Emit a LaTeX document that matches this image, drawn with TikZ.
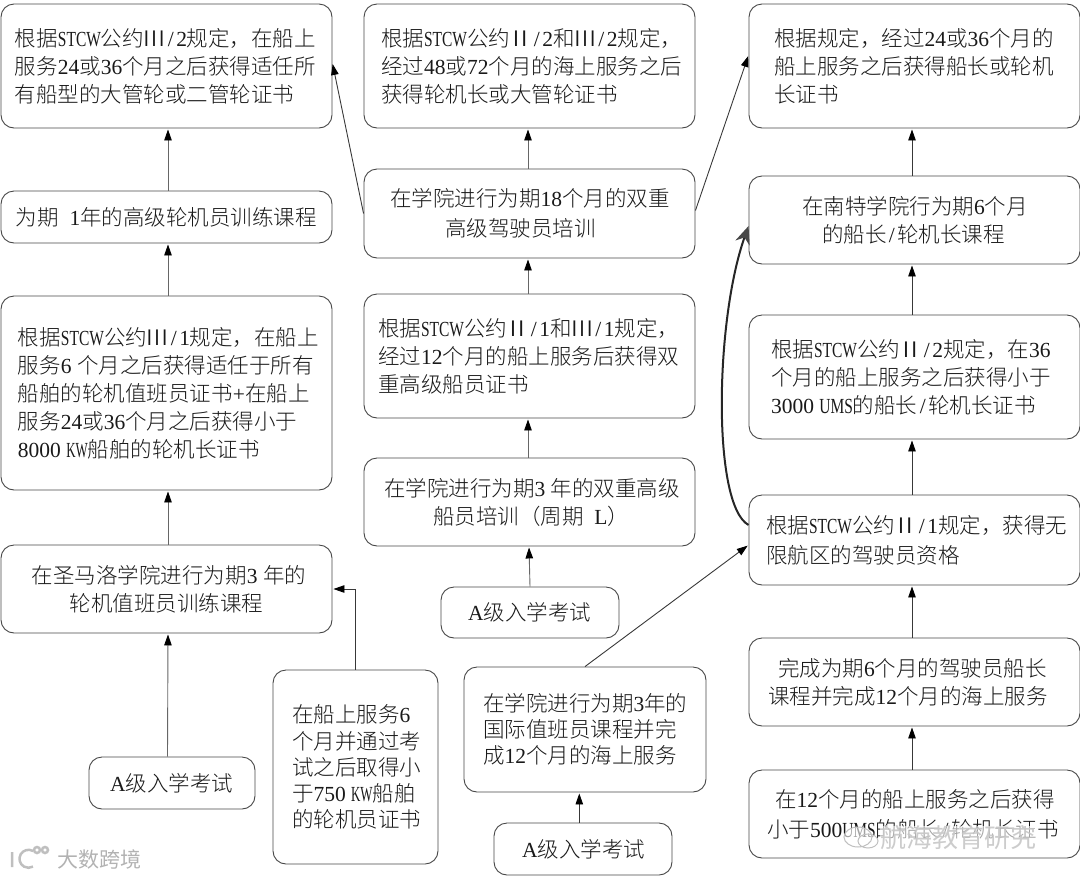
\documentclass[tikz,border=0pt]{standalone}
\usepackage{fontspec}
\setmainfont{Noto Sans CJK SC Light}
\newfontfamily\latf{Liberation Serif}
\newfontfamily\narf[FakeStretch=0.72]{Liberation Serif}
\newfontfamily\nark[FakeStretch=0.6]{Liberation Serif}
\newfontfamily\wmf{Noto Sans CJK SC}
\newcommand\lat[1]{{\latf #1}}
\newcommand\nar[1]{{\narf #1}}
\newcommand\knar[1]{{\nark #1}}
\newcommand\slh{\makebox[.5em]{\latf /}}
\newcommand\rtwo{\makebox[1em]{\scalebox{1.4}[1]{Ⅱ}}}
\newcommand\rthree{\makebox[1em]{\scalebox{1.3}[1]{Ⅲ}}}
\newcommand\thin{\hspace{.25em}}
\newcommand\hs{\hspace{.5em}}
\usetikzlibrary{arrows.meta,calc}
\tikzset{
  x=1pt,y=-1pt,
  boxnode/.style={draw=black!72,line width=0.9pt,rounded corners=13pt,inner sep=0pt,align=left,text=black!90,font=\fontsize{21.5}{28}\selectfont},
  lsa/.style={font=\fontsize{21.5}{26.2}\selectfont},
  lsb/.style={font=\fontsize{21.5}{30}\selectfont},
  arr/.style={draw=black!60,line width=0.9pt,shorten >=1pt,-{Triangle[length=11pt,width=7.5pt,black]}},
  arrd/.style={arr,draw=black!78},
  bigarr/.style={draw=black!85,line width=2pt,-{Stealth[length=18pt,width=15pt,black!72]}},
  wm/.style={text=black!30,inner sep=0pt}
}
% optional style, name, x1, y1, x2, y2, text left edge, text
\newcommand\bx[8][]{%
  \pgfmathsetmacro\bxw{#5-#3}%
  \pgfmathsetmacro\bxl{#7-#3}%
  \node[boxnode,text width=\bxw pt,minimum height=#6-#4,#1] (#2) at ({(#3+#5)/2},{(#4+#6)/2}) {\leftskip=\bxl pt\parindent=0pt #8\par};}
\begin{document}
\begin{tikzpicture}
\useasboundingbox (0,0) rectangle (1080,879);
\bx{aa}{1}{4}{332}{128}{15}{根据\nar{STCW}公约\rthree\slh\lat{2}规定，在船上\\服务\lat{24}或\lat{36}个月之后获得适任所\\有船型的大管轮或二管轮证书}
\bx{ab}{1}{191}{332}{243}{16}{为期\hs\lat{1}年的高级轮机员训练课程}
\bx{ac}{1}{296}{332}{490}{18}{根据\nar{STCW}公约\rthree\slh\lat{1}规定，在船上\\服务\lat{6}\thin 个月之后获得适任于所有\\船舶的轮机值班员证书\lat{+}在船上\\服务\lat{24}或\lat{36}个月之后获得小于\\\lat{8000}\thin\knar{KW}船舶的轮机长证书}
\bx{ad}{1}{545}{332}{633}{32}{在圣马洛学院进行为期\lat{3}\thin 年的\\\hspace*{38pt}轮机值班员训练课程}
\bx{ae}{89}{757}{255}{809}{110}{\lat{A}级入学考试}
\bx[lsa]{af}{273}{670}{438}{864}{292}{在船上服务\lat{6}\\个月并通过考\\试之后取得小\\于\lat{750}\thin\knar{KW}船舶\\的轮机员证书}
\bx{ba}{364}{4}{695}{128}{381}{根据\nar{STCW}公约\rtwo\slh\lat{2}和\rthree\slh\lat{2}规定，\\经过\lat{48}或\lat{72}个月的海上服务之后\\获得轮机长或大管轮证书}
\bx[lsb]{bb}{364}{169}{695}{258}{390}{在学院进行为期\lat{18}个月的双重\\\hspace*{55pt}高级驾驶员培训}
\bx{bc}{364}{294}{695}{418}{378}{根据\nar{STCW}公约\rtwo\slh\lat{1}和\rthree\slh\lat{1}规定，\\经过\lat{12}个月的船上服务后获得双\\重高级船员证书}
\bx{bd}{364}{458}{695}{546}{384}{在学院进行为期\lat{3}\thin 年的双重高级\\\hspace*{49pt}船员培训（周期\hs\lat{L}）}
\bx{be}{441}{587}{619}{638}{468}{\lat{A}级入学考试}
\bx[lsa]{bf}{464}{667}{706}{792}{483}{在学院进行为期\lat{3}年的\\国际值班员课程并完\\成\lat{12}个月的海上服务}
\bx{bg}{494}{823}{672}{875}{522}{\lat{A}级入学考试}
\bx{ca}{749}{4}{1080}{128}{774}{根据规定，经过\lat{24}或\lat{36}个月的\\船上服务之后获得船长或轮机\\长证书}
\bx{cb}{749}{176}{1080}{264}{802}{在南特学院行为期\lat{6}个月\\\hspace*{20pt}的船长\slh 轮机长课程}
\bx{cc}{749}{315}{1080}{439}{771}{根据\nar{STCW}公约\rtwo\slh\lat{2}规定，在\lat{36}\\个月的船上服务之后获得小于\\\lat{3000}\thin\nar{UMS}的船长\slh 轮机长证书}
\bx[lsb]{cd}{749}{495}{1080}{585}{766}{根据\nar{STCW}公约\rtwo\slh\lat{1}规定，获得无\\限航区的驾驶员资格}
\bx{ce}{749}{638}{1080}{726}{768}{\hspace*{10pt}完成为期\lat{6}个月的驾驶员船长\\课程并完成\lat{12}个月的海上服务}
\bx[lsb]{cf}{749}{770}{1080}{858}{767}{\hspace*{8pt}在\lat{12}个月的船上服务之后获得\\小于\lat{500}\nar{UMS}的船长\slh 轮机长证书}
% connectors
\draw[arr] ([xshift=-4.5pt]ae.north) -- ([xshift=1.5pt]ad.south);
\draw[arr] ([xshift=1.5pt]ad.north) -- ([xshift=1.5pt]ac.south);
\draw[arr] ([xshift=1.5pt]ac.north) -- ([xshift=1.5pt]ab.south);
\draw[arr] ([xshift=1.5pt]ab.north) -- ([xshift=1.5pt]aa.south);
\draw[arrd] (af.north) |- (ad.east);
\draw[arrd] (bb.west) -- ([yshift=3pt]aa.east);
\draw[arrd] ([yshift=3pt]bb.east) -- ([yshift=11pt]ca.west);
\draw[arr] (be.north) -- ([xshift=-0.5pt]bd.south);
\draw[arr] ([xshift=-1.5pt]bd.north) -- ([xshift=-1.5pt]bc.south);
\draw[arr] ([xshift=-1.5pt]bc.north) -- ([xshift=-1.5pt]bb.south);
\draw[arr] ([xshift=-1.5pt]bb.north) -- ([xshift=-1.5pt]ba.south);
\draw[arrd] ([xshift=-3.7pt]bg.north) -- ([xshift=-5.7pt]bf.south);
\draw[arrd] (bf.north) -- ([yshift=-5pt]cd.west);
\draw[arrd] ([xshift=-2.5pt]cf.north) -- ([xshift=-2.5pt]ce.south);
\draw[arrd] ([xshift=-2.5pt]ce.north) -- ([xshift=-2.5pt]cd.south);
\draw[arrd] ([xshift=-2.5pt]cd.north) -- ([xshift=-2.5pt]cc.south);
\draw[arrd] ([xshift=-2.5pt]cc.north) -- ([xshift=-2.5pt]cb.south);
\draw[arrd] ([xshift=-2.5pt]cb.north) -- ([xshift=-2.5pt]ca.south);
\draw[bigarr] ([yshift=15pt]cd.west) .. controls (712,505) and (715,320) .. ([yshift=-6pt]cb.west);
% watermarks
\node[wm,font=\wmf\fontsize{21}{21}\selectfont,anchor=west] (wl) at (57,859) {大数跨境};
\draw[black!25,line width=2.5pt] (12,852) -- (12,867) (33,851) arc (60:300:9pt) (37,850) circle (3pt) (45,850) circle (3pt);
\node[wm,font=\wmf\fontsize{26}{26}\selectfont,anchor=west,fill=white,fill opacity=.6,text opacity=.9,text=black!22] (wr) at (880,838) {航海教育研究};
\draw[black!25,line width=1pt,fill=white,fill opacity=.6] (858,837) ellipse (14pt and 10pt) (868,841) ellipse (10pt and 7pt);
\end{tikzpicture}
\end{document}
